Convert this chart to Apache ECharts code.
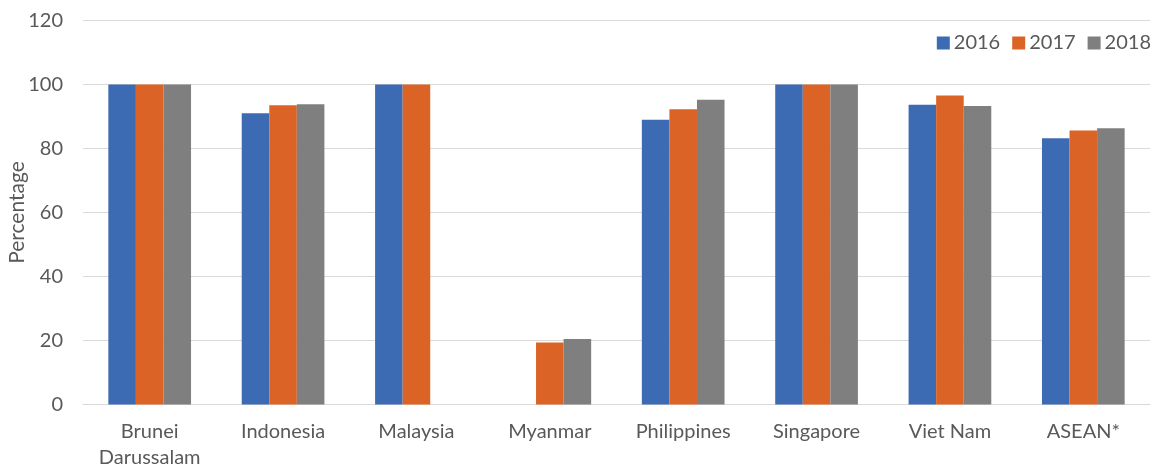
<!DOCTYPE html>
<html><head><meta charset="utf-8">
<script src="https://cdn.jsdelivr.net/npm/echarts@6/dist/echarts.min.js"></script>
<style>html,body{margin:0;padding:0;background:#fff}#c{width:1156px;height:468px}</style>
</head><body><div id="c"></div>
<script>
const categories = ['Brunei\nDarussalam','Indonesia','Malaysia','Myanmar','Philippines','Singapore','Viet Nam','ASEAN*'];
const years = ['2016','2017','2018'];
const v2016 = [100, 91.0, 100, null, 89.0, 100, 93.7, 83.2];
const v2017 = [100, 93.5, 100, 19.4, 92.3, 100, 96.6, 85.6];
const v2018 = [100, 93.8, null, 20.5, 95.2, 100, 93.3, 86.3];
const yTicks = [0, 20, 40, 60, 80, 100, 120];
const colors = ['#3C6BB4', '#DB6325', '#7F7F7F'];
const font = 'Lato, "Open Sans", sans-serif';
const chart = echarts.init(document.getElementById('c'));
const mk = (name, data, i) => ({
  name, type: 'bar', data, barGap: '0%', barCategoryGap: '38%',
  itemStyle: { color: colors[i] }
});
chart.setOption({
  animation: false,
  textStyle: { fontFamily: font },
  legend: {
    top: 28, right: 0, itemWidth: 13, itemHeight: 13, itemGap: 12,
    icon: 'rect',
    textStyle: { fontSize: 20, color: '#595959', fontFamily: font, padding: [0,0,0,-1] },
    data: years
  },
  grid: { left: 83, right: 6, top: 20.5, bottom: 63.5, outerBoundsMode: 'none', containLabel: false },
  xAxis: {
    type: 'category', data: categories,
    axisLine: { lineStyle: { color: '#d9d9d9', width: 1 } },
    axisTick: { show: false },
    axisLabel: { fontSize: 20, color: '#595959', fontFamily: font, margin: 14, lineHeight: 26, interval: 0 }
  },
  yAxis: {
    type: 'value', min: yTicks[0], max: yTicks[yTicks.length-1], interval: 20,
    name: 'Percentage', nameLocation: 'middle', nameGap: 55, nameRotate: 90, nameMoveOverlap: false,
    nameTextStyle: { fontSize: 21, color: '#595959', fontFamily: font },
    axisLine: { show: false }, axisTick: { show: false },
    axisLabel: { fontSize: 20, color: '#595959', fontFamily: font, margin: 20 },
    splitLine: { lineStyle: { color: '#d9d9d9', width: 1 } }
  },
  series: [mk(years[0], v2016, 0), mk(years[1], v2017, 1), mk(years[2], v2018, 2)]
});
</script></body></html>
